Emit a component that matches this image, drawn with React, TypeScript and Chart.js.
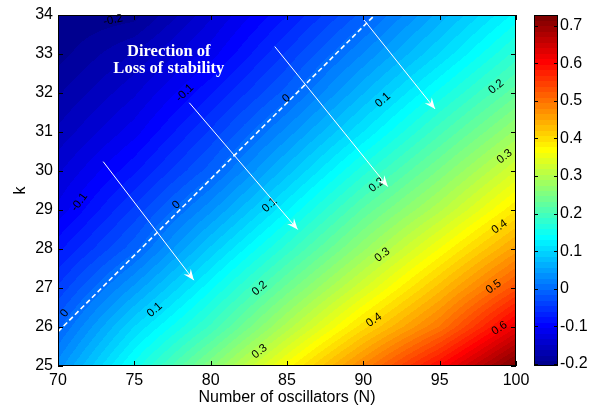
import { useEffect, useRef } from 'react';
import { Chart, registerables } from 'chart.js';

Chart.register(...registerables);

// ---- data ----
const N_VALUES = [70, 75, 80, 85, 90, 95, 100];
const K_VALUES = [25, 26, 27, 28, 29, 30, 31, 32, 33, 34];
// field values along k = 25..34 for each N column
const Z_N70 = [0.035, -0.005, -0.042, -0.078, -0.113, -0.135, -0.158, -0.178, -0.197, -0.205];
const Z_N75 = [0.151, 0.102, 0.047, -0.006, -0.041, -0.077, -0.109, -0.135, -0.16, -0.197];
const Z_N80 = [0.259, 0.192, 0.141, 0.09, 0.039, -0.008, -0.042, -0.076, -0.11, -0.135];
const Z_N85 = [0.371, 0.298, 0.238, 0.181, 0.129, 0.079, 0.034, -0.009, -0.042, -0.075];
const Z_N90 = [0.484, 0.402, 0.333, 0.273, 0.221, 0.168, 0.116, 0.071, 0.029, -0.01];
const Z_N95 = [0.6, 0.497, 0.43, 0.365, 0.302, 0.25, 0.199, 0.15, 0.102, 0.063];
const Z_N100 = [0.7285, 0.625, 0.534, 0.459, 0.392, 0.335, 0.28, 0.228, 0.18, 0.135];
const FIELD_COLUMNS = [Z_N70, Z_N75, Z_N80, Z_N85, Z_N90, Z_N95, Z_N100];

const CB_MIN = -0.2053;
const CB_MAX = 0.7285;
const CB_TICKS = [-0.2, -0.1, 0, 0.1, 0.2, 0.3, 0.4, 0.5, 0.6, 0.7];

// dashed zero contour
const ZERO_N = [70, 90.75];
const ZERO_K = [25.88, 34];

// arrows
const ARROW_START_N = [72.96, 78.6, 84.2, 90.05];
const ARROW_START_K = [30.24, 31.75, 33.19, 33.87];
const ARROW_END_N = [78.9, 85.7, 91.6, 94.7];
const ARROW_END_K = [27.2, 28.5, 29.6, 31.59];

// contour labels
const LABEL_TEXT = ['-0.2', '-0.1', '-0.1', '0', '0', '0', '0.1', '0.1', '0.1', '0.2', '0.2', '0.2', '0.3', '0.3', '0.3', '0.4', '0.4', '0.5', '0.6'];
const LABEL_N = [73.6, 71.4, 78.3, 70.44, 77.75, 84.96, 76.33, 83.86, 91.28, 83.2, 90.87, 98.7, 83.2, 91.24, 99.25, 90.7, 98.92, 98.53, 98.92];
const LABEL_K = [33.87, 29.2, 32.0, 26.35, 29.13, 31.86, 26.44, 29.13, 31.82, 26.99, 29.64, 32.16, 25.37, 27.85, 30.37, 26.18, 28.57, 27.03, 25.97];

// annotation
const NOTE_LINES = ['Direction of', 'Loss of stability'];
const NOTE_N = 77.26;
const NOTE_K = [32.956, 32.505];

const SANS = "'Liberation Sans', Arial, Helvetica, sans-serif";

function jet64(): number[][] {
  const n = 64, m = 16;
  const u: number[] = [];
  for (let i = 1; i <= m; i++) u.push(i / m);
  for (let i = 0; i < m - 1; i++) u.push(1);
  for (let i = m; i >= 1; i--) u.push(i / m);
  const cmap = Array.from({ length: n }, () => [0, 0, 0]);
  for (let t = 0; t < u.length; t++) {
    const g = 8 + t + 1;
    const r = g + m;
    const b = g - m;
    if (r >= 1 && r <= n) cmap[r - 1][0] = u[t];
    if (g >= 1 && g <= n) cmap[g - 1][1] = u[t];
    if (b >= 1 && b <= n) cmap[b - 1][2] = u[t];
  }
  return cmap.map((c) => c.map((v) => Math.round(v * 255)));
}
const JET = jet64();

function colorIndex(v: number): number {
  let idx = Math.floor(((v - CB_MIN) / (CB_MAX - CB_MIN)) * 64);
  if (idx < 0) idx = 0;
  if (idx > 63) idx = 63;
  return idx;
}

function fieldAt(n: number, k: number): number {
  const nx = N_VALUES.length, ny = K_VALUES.length;
  let i = 0;
  while (i < nx - 2 && n > N_VALUES[i + 1]) i++;
  let j = 0;
  while (j < ny - 2 && k > K_VALUES[j + 1]) j++;
  let tx = (n - N_VALUES[i]) / (N_VALUES[i + 1] - N_VALUES[i]);
  let ty = (k - K_VALUES[j]) / (K_VALUES[j + 1] - K_VALUES[j]);
  tx = Math.max(0, Math.min(1, tx));
  ty = Math.max(0, Math.min(1, ty));
  const c0 = FIELD_COLUMNS[i], c1 = FIELD_COLUMNS[i + 1];
  const a = c0[j] * (1 - ty) + c0[j + 1] * ty;
  const b = c1[j] * (1 - ty) + c1[j + 1] * ty;
  return a * (1 - tx) + b * tx;
}

const fieldPlugin = {
  id: 'fieldPlugin',
  beforeDatasetsDraw(chart: any) {
    const { ctx, chartArea: a, scales } = chart;
    const xs = scales.x, ys = scales.y;
    const w = Math.round(a.right - a.left);
    const h = Math.round(a.bottom - a.top);
    const off = document.createElement('canvas');
    off.width = w;
    off.height = h;
    const octx = off.getContext('2d')!;
    const img = octx.createImageData(w, h);
    const nCol = new Float64Array(w);
    for (let px = 0; px < w; px++) nCol[px] = xs.getValueForPixel(a.left + px + 0.5);
    for (let py = 0; py < h; py++) {
      const k = ys.getValueForPixel(a.top + py + 0.5);
      for (let px = 0; px < w; px++) {
        const c = JET[colorIndex(fieldAt(nCol[px], k))];
        const o = (py * w + px) * 4;
        img.data[o] = c[0];
        img.data[o + 1] = c[1];
        img.data[o + 2] = c[2];
        img.data[o + 3] = 255;
      }
    }
    octx.putImageData(img, 0, 0);
    ctx.save();
    ctx.drawImage(off, a.left, a.top);
    // contour labels
    ctx.fillStyle = '#000';
    ctx.font = `11.5px ${SANS}`;
    ctx.textAlign = 'center';
    ctx.textBaseline = 'middle';
    LABEL_TEXT.forEach((t, i) => {
      const px = xs.getPixelForValue(LABEL_N[i]);
      const py = ys.getPixelForValue(LABEL_K[i]);
      const f = (qx: number, qy: number) => fieldAt(xs.getValueForPixel(qx), ys.getValueForPixel(qy));
      const gx = f(px + 2, py) - f(px - 2, py);
      const gy = f(px, py + 2) - f(px, py - 2);
      const ang = Math.atan2(-gx, gy);
      ctx.save();
      ctx.translate(px, py);
      ctx.rotate(ang);
      ctx.fillText(t, 0, 0);
      ctx.restore();
    });
    ctx.restore();
  },
  afterDatasetsDraw(chart: any) {
    const { ctx, chartArea: a, scales } = chart;
    const xs = scales.x, ys = scales.y, cb = scales.cb;
    ctx.save();
    // arrowheads
    ctx.fillStyle = '#fff';
    ARROW_END_N.forEach((n, i) => {
      const tx = xs.getPixelForValue(n), ty = ys.getPixelForValue(ARROW_END_K[i]);
      const sx = xs.getPixelForValue(ARROW_START_N[i]), sy = ys.getPixelForValue(ARROW_START_K[i]);
      const L = Math.hypot(tx - sx, ty - sy);
      const dx = (tx - sx) / L, dy = (ty - sy) / L;
      const px = -dy, py = dx;
      const len = 11, hw = 4.5, notch = 7;
      ctx.beginPath();
      ctx.moveTo(tx, ty);
      ctx.lineTo(tx - dx * len + px * hw, ty - dy * len + py * hw);
      ctx.lineTo(tx - dx * notch, ty - dy * notch);
      ctx.lineTo(tx - dx * len - px * hw, ty - dy * len - py * hw);
      ctx.closePath();
      ctx.fill();
    });
    // annotation text
    ctx.font = `bold 16.5px 'Liberation Serif', 'Times New Roman', serif`;
    ctx.textAlign = 'center';
    ctx.textBaseline = 'alphabetic';
    NOTE_LINES.forEach((t, i) => {
      ctx.fillText(t, xs.getPixelForValue(NOTE_N), ys.getPixelForValue(NOTE_K[i]));
    });
    // frame and ticks
    ctx.strokeStyle = '#000';
    ctx.lineWidth = 1;
    ctx.strokeRect(a.left + 0.5, a.top + 0.5, a.right - a.left - 1, a.bottom - a.top - 1);
    ctx.beginPath();
    const tl = 5;
    xs.ticks.forEach((t: any) => {
      const x = Math.round(xs.getPixelForValue(t.value)) + 0.5;
      ctx.moveTo(x, a.bottom);
      ctx.lineTo(x, a.bottom - tl);
      ctx.moveTo(x, a.top);
      ctx.lineTo(x, a.top + tl);
    });
    ys.ticks.forEach((t: any) => {
      const y = Math.round(ys.getPixelForValue(t.value)) + 0.5;
      ctx.moveTo(a.left, y);
      ctx.lineTo(a.left + tl, y);
      ctx.moveTo(a.right, y);
      ctx.lineTo(a.right - tl, y);
    });
    ctx.stroke();
    // colorbar
    const bx0 = cb.left + 18, bx1 = cb.left + 42;
    for (let i = 0; i < 64; i++) {
      const v0 = CB_MIN + ((CB_MAX - CB_MIN) * i) / 64;
      const v1 = CB_MIN + ((CB_MAX - CB_MIN) * (i + 1)) / 64;
      const y0 = cb.getPixelForValue(v0), y1 = cb.getPixelForValue(v1);
      const c = JET[i];
      ctx.fillStyle = `rgb(${c[0]},${c[1]},${c[2]})`;
      ctx.fillRect(bx0, Math.floor(y1), bx1 - bx0, Math.ceil(y0) - Math.floor(y1));
    }
    const cbTop = cb.getPixelForValue(CB_MAX), cbBot = cb.getPixelForValue(CB_MIN);
    ctx.strokeRect(bx0 + 0.5, cbTop + 0.5, bx1 - bx0 - 1, cbBot - cbTop - 1);
    ctx.beginPath();
    CB_TICKS.forEach((v) => {
      const y = Math.round(cb.getPixelForValue(v)) + 0.5;
      ctx.moveTo(bx0, y);
      ctx.lineTo(bx0 + 4, y);
      ctx.moveTo(bx1, y);
      ctx.lineTo(bx1 - 4, y);
    });
    ctx.stroke();
    ctx.restore();
  },
};

export default function App() {
  const ref = useRef<HTMLCanvasElement>(null);
  useEffect(() => {
    document.body.style.margin = '0';
    const datasets: any[] = [
      {
        data: ZERO_N.map((n, i) => ({ x: n, y: ZERO_K[i] })),
        showLine: true,
        borderColor: '#ffffff',
        borderWidth: 1.6,
        borderDash: [5, 3],
        pointRadius: 0,
      },
      ...ARROW_START_N.map((n, i) => ({
        data: [
          { x: n, y: ARROW_START_K[i] },
          { x: ARROW_END_N[i], y: ARROW_END_K[i] },
        ],
        showLine: true,
        borderColor: '#ffffff',
        borderWidth: 1,
        pointRadius: 0,
      })),
    ];
    const chart = new Chart(ref.current!, {
      type: 'scatter',
      data: { datasets },
      options: {
        animation: false,
        responsive: false,
        events: [],
        layout: { padding: { top: 15, right: 0, bottom: 0, left: 0 } },
        plugins: { legend: { display: false }, tooltip: { enabled: false } },
        scales: {
          x: {
            type: 'linear',
            min: 70,
            max: 100,
            grid: { display: false, drawTicks: false },
            border: { display: false },
            ticks: { stepSize: 5, color: '#000', padding: 5, font: { family: SANS, size: 16 } },
            title: {
              display: true,
              text: 'Number of oscillators (N)',
              color: '#000',
              padding: { top: 0, bottom: 0 },
              font: { family: SANS, size: 16 },
            },
            afterFit(scale: any) {
              scale.height = 41;
            },
          },
          y: {
            type: 'linear',
            min: 25,
            max: 34,
            grid: { display: false, drawTicks: false },
            border: { display: false },
            ticks: { stepSize: 1, color: '#000', padding: 5, font: { family: SANS, size: 16 } },
            title: {
              display: true,
              text: 'k',
              color: '#000',
              padding: { top: 11, bottom: 0 },
              font: { family: SANS, size: 16 },
            },
            afterFit(scale: any) {
              scale.width = 58;
            },
          },
          cb: {
            type: 'linear',
            position: 'right',
            min: CB_MIN,
            max: CB_MAX,
            grid: { display: false, drawTicks: true, tickLength: 44 },
            border: { display: false },
            ticks: {
              color: '#000',
              padding: 0,
              font: { family: SANS, size: 16 },
              callback: (v: any) => {
                const r = Math.round(Number(v) * 10) / 10;
                return r === 0 ? '0' : String(r);
              },
            },
            afterBuildTicks(scale: any) {
              scale.ticks = CB_TICKS.map((v) => ({ value: v }));
            },
            afterFit(scale: any) {
              scale.width = 86;
            },
          },
        },
      } as any,
      plugins: [fieldPlugin],
    });
    return () => chart.destroy();
  }, []);
  return (
    <canvas
      ref={ref}
      width={602}
      height={407}
      style={{ display: 'block', width: '602px', height: '407px' }}
    />
  );
}
